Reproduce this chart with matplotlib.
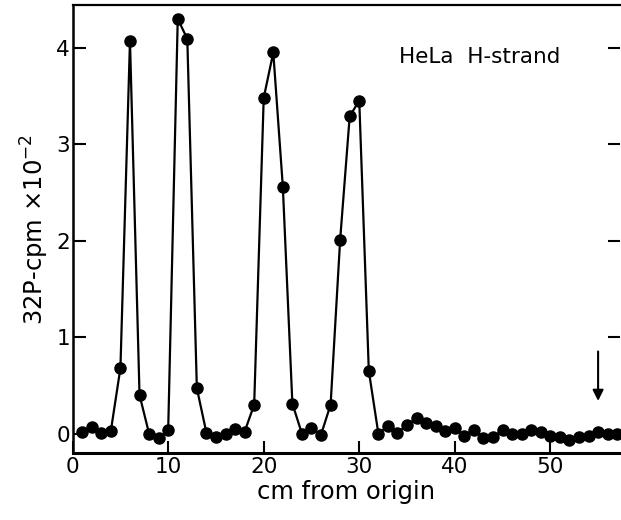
import numpy as np
import matplotlib
matplotlib.use('Agg')
import matplotlib.pyplot as plt

# cm from origin vs 32P counts (x 10^-2)
cm = np.arange(1, 58)
cpm = [0.02, 0.07, 0.01, 0.03, 0.68, 4.07, 0.40, 0.00, -0.05, 0.04,
       4.30, 4.09, 0.47, 0.01, -0.04, 0.00, 0.05, 0.02, 0.30, 3.48,
       3.95, 2.56, 0.31, 0.00, 0.06, -0.01, 0.30, 2.01, 3.29, 3.45,
       0.65, 0.00, 0.08, 0.01, 0.09, 0.16, 0.11, 0.08, 0.03, 0.06,
       -0.02, 0.04, -0.05, -0.04, 0.04, 0.00, 0.00, 0.04, 0.02, -0.02,
       -0.04, -0.07, -0.03, -0.02, 0.02, 0.00, 0.00]
xticks = [0, 10, 20, 30, 40, 50]
yticks = [0, 1, 2, 3, 4]
arrow_x = 55

fig = plt.figure(figsize=(6.21, 5.2), dpi=100)
ax = fig.add_axes([0.117, 0.129, 0.8815, 0.861])

ax.plot(cm, cpm, color='black', lw=1.6, marker='o', markersize=8)

ax.set_xlim(0, 57.3)
ax.set_ylim(-0.2, 4.44)
ax.set_xticks(xticks)
ax.set_yticks(yticks)
ax.tick_params(direction='in', length=9, width=1.5, labelsize=15.5, right=True, pad=3)
ax.tick_params(axis='y', pad=2)

ax.spines['right'].set_visible(False)
ax.spines['left'].set_linewidth(1.8)
ax.spines['bottom'].set_linewidth(2.2)
ax.spines['top'].set_linewidth(1.6)

ax.set_xlabel('cm from origin', fontsize=17.5, labelpad=2)
ax.set_ylabel('32P-cpm $\\times$10$^{-2}$', fontsize=17.5, labelpad=4)

ax.text(42.6, 3.90, 'HeLa  H-strand', fontsize=15.5, ha='center', va='center')

ax.annotate('', xy=(arrow_x, 0.31), xytext=(arrow_x, 0.88),
            arrowprops=dict(arrowstyle='-|>', lw=1.5, color='black', mutation_scale=16))

fig.savefig('out.png', dpi=100)
